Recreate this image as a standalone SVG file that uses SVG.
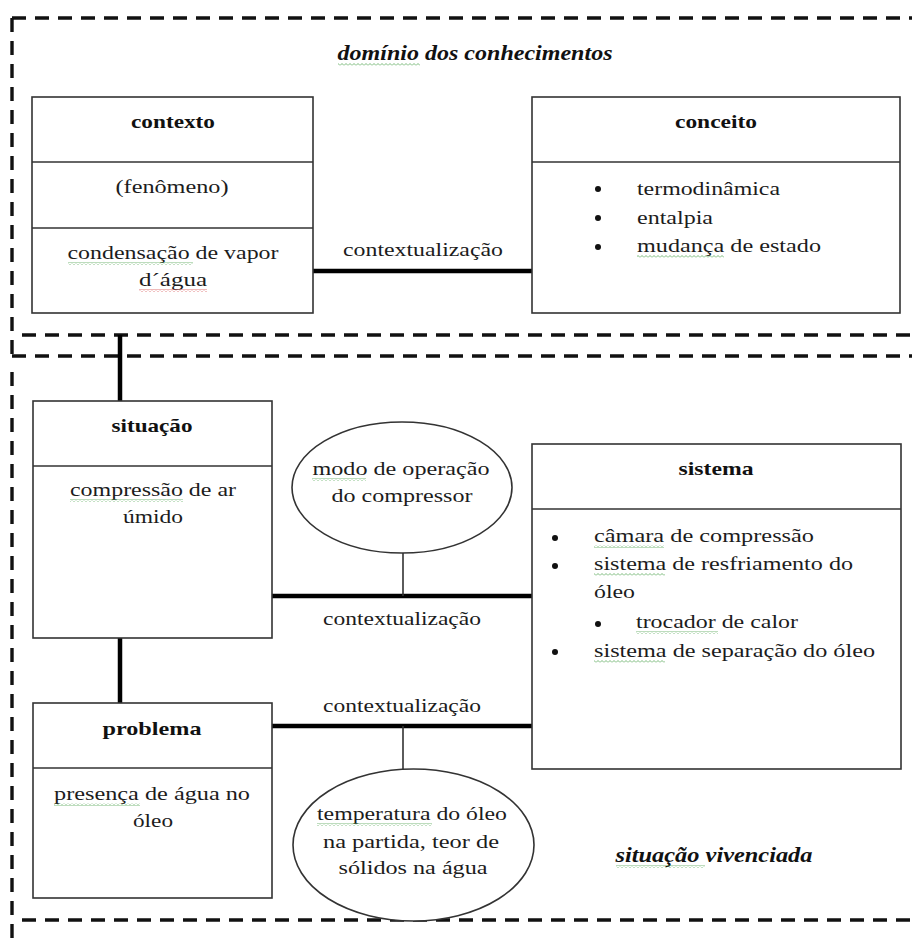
<svg xmlns="http://www.w3.org/2000/svg" width="912" height="939" viewBox="0 0 912 939" font-family="Liberation Serif">
<style>
.bg{fill:#ffffff}
.frame{stroke:#111;stroke-width:3.4;stroke-dasharray:14 9;fill:none}
.box{fill:#fff;stroke:#333;stroke-width:1.6}
.div{stroke:#333;stroke-width:1.6}
.thick{stroke:#000;stroke-width:4.5;fill:none}
.thin{stroke:#333;stroke-width:1.6;fill:none}
.ell{fill:#fff;stroke:#333;stroke-width:1.6}
text{font-family:"Liberation Serif","Times New Roman",serif;font-size:19.5px;fill:#1c1c1c}
.b{font-weight:bold;fill:#111}
.bi{font-weight:bold;font-style:italic;font-size:20px;fill:#111}
.c{text-anchor:middle}
.dot{fill:#111}
</style>
<defs>
<pattern id="wg" width="4" height="3" patternUnits="userSpaceOnUse"><path d="M0,2.5 L2,0.5 L4,2.5" stroke="#5aa85a" stroke-width="0.8" fill="none"/></pattern>
<pattern id="wr" width="4" height="3" patternUnits="userSpaceOnUse"><path d="M0,2.5 L2,0.5 L4,2.5" stroke="#d65050" stroke-width="0.8" fill="none"/></pattern>
</defs>
<rect class="bg" x="0" y="0" width="912" height="939"/>

<g id="frames">
<line class="frame" x1="12" y1="18" x2="912" y2="18"/>
<line class="frame" x1="12" y1="18" x2="12" y2="356"/>
<line class="frame" x1="12" y1="356" x2="912" y2="356"/>
<line class="frame" x1="22" y1="335" x2="912" y2="335"/>
<line class="frame" x1="12" y1="372" x2="12" y2="939"/>
<line class="frame" x1="22" y1="920" x2="912" y2="920"/>
<text class="bi c" x="475" y="60" textLength="275" lengthAdjust="spacingAndGlyphs">domínio dos conhecimentos</text>
<text class="bi c" x="714" y="862" textLength="197" lengthAdjust="spacingAndGlyphs">situação vivenciada</text>
</g>

<g id="connectors">
<line class="thick" x1="313" y1="271" x2="532" y2="271"/>
<line class="thick" x1="120" y1="335" x2="120" y2="401"/>
<line class="thick" x1="120" y1="638" x2="120" y2="703"/>
<line class="thick" x1="272" y1="596" x2="532" y2="596"/>
<line class="thick" x1="272" y1="726" x2="532" y2="726"/>
<line class="thin" x1="403" y1="553" x2="403" y2="596"/>
<line class="thin" x1="403" y1="726" x2="403" y2="769"/>
<text class="c" x="423" y="256" textLength="160" lengthAdjust="spacingAndGlyphs">contextualização</text>
<text class="c" x="402" y="625" textLength="158" lengthAdjust="spacingAndGlyphs">contextualização</text>
<text class="c" x="402" y="712" textLength="158" lengthAdjust="spacingAndGlyphs">contextualização</text>
</g>

<g id="contexto">
<rect class="box" x="32" y="97" width="281" height="216"/>
<line class="div" x1="32" y1="162" x2="313" y2="162"/>
<line class="div" x1="32" y1="228" x2="313" y2="228"/>
<text class="b c" x="173" y="128" textLength="84" lengthAdjust="spacingAndGlyphs">contexto</text>
<text class="c" x="172" y="193" textLength="113" lengthAdjust="spacingAndGlyphs">(fenômeno)</text>
<text class="c" x="173" y="259" textLength="211" lengthAdjust="spacingAndGlyphs">condensação de vapor</text>
<text class="c" x="173" y="286" textLength="68" lengthAdjust="spacingAndGlyphs">d´água</text>
</g>

<g id="conceito">
<rect class="box" x="532" y="97" width="368" height="216"/>
<line class="div" x1="532" y1="162" x2="900" y2="162"/>
<text class="b c" x="716" y="128" textLength="82" lengthAdjust="spacingAndGlyphs">conceito</text>
<circle class="dot" cx="598" cy="189" r="3"/>
<circle class="dot" cx="598" cy="218" r="3"/>
<circle class="dot" cx="598" cy="247" r="3"/>
<text x="637" y="195" textLength="143" lengthAdjust="spacingAndGlyphs">termodinâmica</text>
<text x="637" y="224" textLength="76" lengthAdjust="spacingAndGlyphs">entalpia</text>
<text x="637" y="252" textLength="184" lengthAdjust="spacingAndGlyphs">mudança de estado</text>
</g>

<g id="situacao">
<rect class="box" x="33" y="401" width="239" height="237"/>
<line class="div" x1="33" y1="466" x2="272" y2="466"/>
<text class="b c" x="152" y="432" textLength="81" lengthAdjust="spacingAndGlyphs">situação</text>
<text class="c" x="153" y="496" textLength="166" lengthAdjust="spacingAndGlyphs">compressão de ar</text>
<text class="c" x="153" y="523" textLength="60" lengthAdjust="spacingAndGlyphs">úmido</text>
</g>

<g id="problema">
<rect class="box" x="33" y="703" width="239" height="195"/>
<line class="div" x1="33" y1="768" x2="272" y2="768"/>
<text class="b c" x="152" y="735" textLength="99" lengthAdjust="spacingAndGlyphs">problema</text>
<text class="c" x="152" y="800" textLength="196" lengthAdjust="spacingAndGlyphs">presença de água no</text>
<text class="c" x="153" y="827" textLength="40" lengthAdjust="spacingAndGlyphs">óleo</text>
</g>

<g id="sistema">
<rect class="box" x="532" y="444" width="369" height="325"/>
<line class="div" x1="532" y1="509" x2="901" y2="509"/>
<text class="b c" x="716" y="475" textLength="75" lengthAdjust="spacingAndGlyphs">sistema</text>
<circle class="dot" cx="555" cy="538" r="3"/>
<circle class="dot" cx="555" cy="566" r="3"/>
<circle class="dot" cx="598" cy="624" r="3"/>
<circle class="dot" cx="555" cy="652" r="3"/>
<text x="594" y="542" textLength="220" lengthAdjust="spacingAndGlyphs">câmara de compressão</text>
<text x="594" y="570" textLength="259" lengthAdjust="spacingAndGlyphs">sistema de resfriamento do</text>
<text x="594" y="598" textLength="41" lengthAdjust="spacingAndGlyphs">óleo</text>
<text x="636" y="628" textLength="162" lengthAdjust="spacingAndGlyphs">trocador de calor</text>
<text x="594" y="657" textLength="281" lengthAdjust="spacingAndGlyphs">sistema de separação do óleo</text>
</g>

<g id="modo-operacao">
<ellipse class="ell" cx="402" cy="487.5" rx="110" ry="65.5"/>
<text class="c" x="401" y="475" textLength="177" lengthAdjust="spacingAndGlyphs">modo de operação</text>
<text class="c" x="402" y="502" textLength="141" lengthAdjust="spacingAndGlyphs">do compressor</text>
</g>

<g id="temperatura-oleo">
<ellipse class="ell" cx="413.5" cy="845" rx="120.5" ry="76"/>
<text class="c" x="412" y="820" textLength="190" lengthAdjust="spacingAndGlyphs">temperatura do óleo</text>
<text class="c" x="411" y="848" textLength="176" lengthAdjust="spacingAndGlyphs">na partida, teor de</text>
<text class="c" x="413" y="874" textLength="149" lengthAdjust="spacingAndGlyphs">sólidos na água</text>
</g>

<g id="spellcheck">
<rect x="338" y="63" width="82" height="3" fill="url(#wg)"/>
<rect x="68" y="262" width="125" height="3" fill="url(#wg)"/>
<rect x="139" y="289" width="68" height="3" fill="url(#wr)"/>
<rect x="637" y="255" width="87" height="3" fill="url(#wg)"/>
<rect x="70" y="499" width="113" height="3" fill="url(#wg)"/>
<rect x="312" y="478" width="54" height="3" fill="url(#wg)"/>
<rect x="594" y="545" width="70" height="3" fill="url(#wg)"/>
<rect x="594" y="573" width="71" height="3" fill="url(#wg)"/>
<rect x="636" y="631" width="82" height="3" fill="url(#wg)"/>
<rect x="594" y="660" width="71" height="3" fill="url(#wg)"/>
<rect x="54" y="803" width="86" height="3" fill="url(#wg)"/>
<rect x="317" y="823" width="115" height="3" fill="url(#wg)"/>
<rect x="616" y="865" width="89" height="3" fill="url(#wg)"/>
</g>
</svg>
